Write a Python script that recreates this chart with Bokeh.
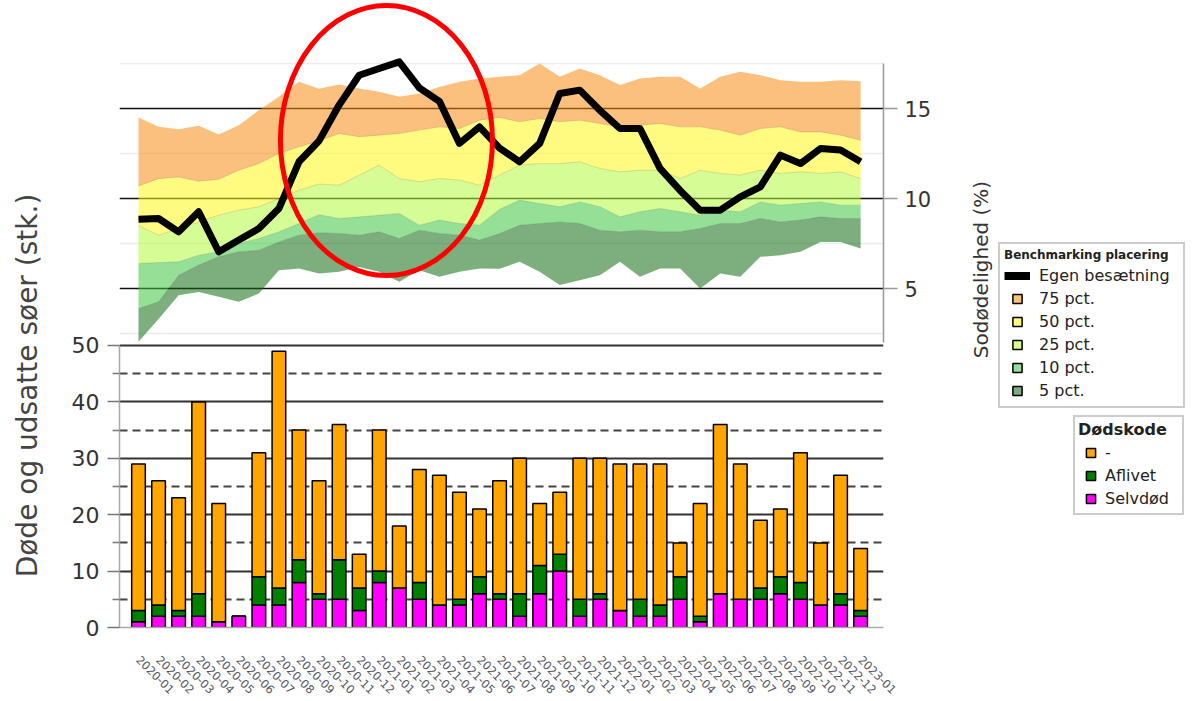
import math
from bokeh.plotting import figure
from bokeh.layouts import row
from bokeh.models import (Range1d, LinearAxis, FixedTicker, Grid, Legend, LegendItem, Label)
from bokeh.embed import file_html
from bokeh.resources import INLINE

# ---------------- data ----------------
months = ["2020-01", "2020-02", "2020-03", "2020-04", "2020-05", "2020-06", "2020-07", "2020-08",
          "2020-09", "2020-10", "2020-11", "2020-12", "2021-01", "2021-02", "2021-03", "2021-04",
          "2021-05", "2021-06", "2021-07", "2021-08", "2021-09", "2021-10", "2021-11", "2021-12",
          "2022-01", "2022-02", "2022-03", "2022-04", "2022-05", "2022-06", "2022-07", "2022-08",
          "2022-09", "2022-10", "2022-11", "2022-12", "2023-01"]

# Bars: deaths per month (stk.)
total = [29, 26, 23, 40, 22, 2, 31, 49, 35, 26, 36, 13, 35, 18, 28, 27, 24, 21, 26, 30, 22, 24, 30, 30,
         29, 29, 29, 15, 22, 36, 29, 19, 21, 31, 15, 27, 14]
selvdod = [1, 2, 2, 2, 1, 2, 4, 4, 8, 5, 5, 3, 8, 7, 5, 4, 4, 6, 5, 2, 6, 10, 2, 5,
           3, 2, 2, 5, 1, 6, 5, 5, 6, 5, 4, 4, 2]
aflivet = [2, 2, 1, 4, 0, 0, 5, 3, 4, 1, 7, 4, 2, 0, 3, 0, 1, 3, 1, 4, 5, 3, 3, 1,
           0, 3, 2, 4, 1, 0, 0, 2, 3, 3, 0, 2, 1]

# Benchmark band boundaries (Sodødelighed %)
band_lo5 = [2.04, 3.3, 4.63, 4.81, 4.54, 4.26, 4.72, 6.02, 6.11, 5.83, 5.93, 6.2, 5.93, 5.37, 6.02, 5.65,
            5.93, 6.11, 6.1, 6.48, 5.93, 5.19, 5.46, 5.74, 6.48, 5.65, 6.11, 6.11, 5.0, 5.83, 5.65, 6.76,
            6.85, 7.04, 7.59, 7.59, 7.22]
band_10 = [3.89, 4.26, 5.74, 6.3, 6.76, 7.04, 7.13, 7.59, 7.96, 8.1, 8.06, 7.96, 8.15, 7.78, 8.24, 8.06,
           7.96, 7.69, 8.05, 8.52, 8.61, 8.7, 8.61, 8.24, 8.15, 8.24, 8.15, 8.15, 8.33, 8.61, 8.61, 8.89,
           8.7, 8.8, 8.98, 8.89, 8.89]
band_25 = [6.39, 6.44, 6.48, 6.85, 7.04, 7.5, 7.78, 8.15, 8.61, 9.1, 8.89, 8.98, 9.07, 9.17, 8.52, 8.8,
           8.61, 8.52, 9.4, 9.91, 9.72, 9.54, 9.81, 9.54, 8.98, 9.26, 9.44, 9.26, 9.07, 9.35, 9.26, 9.81,
           9.63, 9.72, 9.81, 9.63, 9.63]
band_50 = [8.5, 7.96, 8.33, 8.7, 9.07, 9.35, 9.54, 10.0, 10.46, 10.8, 10.74, 11.3, 11.85, 11.11, 10.93, 11.11,
           11.02, 10.74, 11.3, 11.85, 11.94, 11.94, 12.04, 11.67, 11.48, 11.57, 11.57, 11.11, 11.57, 11.39,
           11.3, 11.57, 11.39, 11.48, 11.39, 11.48, 11.11]
band_75 = [10.7, 11.1, 11.2, 10.96, 11.07, 11.57, 11.94, 12.5, 12.87, 13.2, 13.61, 13.43, 13.52, 13.61, 13.8,
           13.98, 13.89, 14.35, 14.5, 14.26, 14.44, 14.26, 14.35, 14.17, 13.98, 14.07, 14.17, 13.98, 13.98,
           13.8, 13.52, 13.89, 13.98, 13.7, 13.7, 13.52, 13.24]
band_hi = [14.5, 13.98, 13.85, 14.04, 13.56, 14.07, 14.9, 15.65, 16.48, 16.1, 16.33, 16.11, 15.93, 15.65, 15.83,
           16.2, 16.48, 16.67, 16.76, 16.85, 17.5, 16.76, 17.22, 16.85, 16.3, 16.67, 16.76, 16.76, 16.11,
           16.76, 17.04, 16.85, 16.57, 16.48, 16.48, 16.57, 16.52]
egen = [8.85, 8.89, 8.15, 9.26, 7.04, 7.69, 8.33, 9.44, 12.04, 13.2, 15.19, 16.85, 17.22, 17.59, 16.15, 15.4,
        13.06, 13.98, 12.8, 12.04, 13.06, 15.83, 16.02, 14.9, 13.89, 13.89, 11.67, 10.45, 9.35, 9.35, 10.09,
        10.65, 12.41, 11.94, 12.78, 12.69, 12.04]

band_labels = ["5 pct.", "10 pct.", "25 pct.", "50 pct.", "75 pct."]
bar_labels = ["Selvdød", "Aflivet", "-"]

# ---------------- styles ----------------
FONT = "DejaVu Sans"
band_fill = ["#136c13", "#3cc740", "#b4f940", "#fff618", "#f98c14"]
band_alpha = 0.55
band_legend = ["#7dae7d", "#94e096", "#d6fc96", "#fffa80", "#fcc17e"]
bar_colors = ["#ff00ff", "#008000", "#ffa500"]

H = 700
BOTTOM = 73          # space under the plot frame (x labels)
FRAME_H = H - BOTTOM
LEFT_W = 60
MAIN_W = 883
RIGHT_W = 247


def blank_fig(w):
    f = figure(width=w, height=H, output_backend="svg", toolbar_location=None,
               x_range=Range1d(0, w), y_range=Range1d(FRAME_H, 0),
               x_axis_location=None, y_axis_location=None,
               min_border=0, min_border_left=0, min_border_right=0,
               min_border_top=0, min_border_bottom=BOTTOM)
    f.xgrid.visible = False
    f.ygrid.visible = False
    f.outline_line_color = None
    f.background_fill_color = "white"
    f.border_fill_color = "white"
    return f


x = list(range(len(months)))
rest = [t - s - a for t, s, a in zip(total, selvdod, aflivet)]

p = figure(width=MAIN_W, height=H, output_backend="svg", toolbar_location=None,
           x_range=Range1d(-0.947, 37.14), y_range=Range1d(0, 111.17),
           x_axis_location=None, y_axis_location=None,
           min_border_left=59, min_border_right=60, min_border_top=0, min_border_bottom=BOTTOM)
p.extra_y_ranges = {"top": Range1d(-13.833, 21.0)}
p.outline_line_color = None
p.xgrid.visible = False
p.ygrid.visible = False
p.background_fill_color = "white"
p.border_fill_color = "white"

# ---- grids ----
p.add_layout(Grid(dimension=1, ticker=FixedTicker(ticks=[10, 20, 30, 40, 50]),
                  grid_line_color="#333333", grid_line_width=2))
p.add_layout(Grid(dimension=1, ticker=FixedTicker(ticks=[5, 15, 25, 35, 45]),
                  grid_line_color="#444444", grid_line_width=2, grid_line_dash="8 5"))
p.add_layout(Grid(dimension=1, y_range_name="top", ticker=FixedTicker(ticks=[2.5, 7.5, 12.5, 17.5]),
                  grid_line_color="#ececec", grid_line_width=1.5))
p.add_layout(Grid(dimension=1, y_range_name="top", ticker=FixedTicker(ticks=[5, 10, 15]),
                  grid_line_color="#111111", grid_line_width=1.5))

# ---- axes ----
xax = LinearAxis(ticker=FixedTicker(ticks=x),
                 major_label_overrides={i: m for i, m in enumerate(months)},
                 major_label_orientation=-math.pi / 4,
                 major_label_text_font=FONT, major_label_text_font_size="11.5px",
                 major_label_text_color="#555566", major_label_standoff=24,
                 axis_line_color="#aaaaaa", axis_line_width=1.5,
                 major_tick_line_color=None, minor_tick_line_color=None)
p.add_layout(xax, "below")

yax = LinearAxis(ticker=FixedTicker(ticks=[0, 10, 20, 30, 40, 50], minor_ticks=[5, 15, 25, 35, 45]),
                 bounds=(0, 50), axis_line_color="#aaaaaa", axis_line_width=1.5,
                 major_tick_out=12, major_tick_in=0, minor_tick_out=7, minor_tick_in=0,
                 major_tick_line_color="#777777", minor_tick_line_color="#777777",
                 major_tick_line_width=1.5, minor_tick_line_width=1.5,
                 major_label_text_font=FONT, major_label_text_font_size="22px",
                 major_label_text_color="#333333", major_label_standoff=8)
p.add_layout(yax, "left")

rax = LinearAxis(y_range_name="top", ticker=FixedTicker(ticks=[5, 10, 15]),
                 bounds=(2.0, 17.5), axis_line_color="#999999", axis_line_width=1.5,
                 major_tick_out=14, major_tick_in=0, major_tick_line_color="#999999",
                 major_tick_line_width=1.5, minor_tick_line_color=None,
                 major_label_text_font=FONT, major_label_text_font_size="21px",
                 major_label_text_color="#333333", major_label_standoff=7)
p.add_layout(rax, "right")

# ---- benchmark bands ----
bounds_list = [band_lo5, band_10, band_25, band_50, band_75, band_hi]
for k in range(5):
    p.varea(x=x, y1=bounds_list[k], y2=bounds_list[k + 1], fill_color=band_fill[k],
            fill_alpha=band_alpha, y_range_name="top")
for k in range(1, 5):
    p.line(x=x, y=bounds_list[k], line_color="#000000", line_alpha=0.12, line_width=1,
           y_range_name="top")

p.line(x=x, y=egen, line_color="black", line_width=7, line_join="round", y_range_name="top")

# ---- bars ----
p.vbar_stack(["selv", "afl", "rest"], x="x", width=0.68,
             source=dict(x=x, selv=selvdod, afl=aflivet, rest=rest),
             fill_color=bar_colors, line_color="black", line_width=1.5)

# ---- highlight ellipse ----
ell_x, ell_y, ell_w, ell_h = 12.36, 13.22, 10.57, 15.0
p.ellipse(x=[ell_x], y=[ell_y], width=ell_w, height=ell_h, fill_color=None,
          line_color="#ff0000", line_width=5, y_range_name="top")

# ---- left title panel ----
lf = blank_fig(LEFT_W)
lf.add_layout(Label(x=27, y=385, text="Døde og udsatte søer (stk.)", angle=math.pi / 2,
                    text_align="center", text_baseline="middle", text_font=FONT,
                    text_font_size="28px", text_color="#444444"))

# ---- right panel: axis title + legends ----
rf = blank_fig(RIGHT_W)
rf.add_layout(Label(x=37, y=269, text="Sodødelighed (%)", angle=math.pi / 2,
                    text_align="center", text_baseline="middle", text_font=FONT,
                    text_font_size="20px", text_color="#333333"))

OFF = [-1000]  # legend-only renderers sit outside the visible area
egen_leg = rf.line(x=OFF, y=OFF, line_color="black", line_width=8)
dummy = []
for k in range(5):
    dummy.append(rf.scatter(x=OFF, y=OFF, marker="square", size=11, fill_color=band_legend[k],
                            line_color="black", line_width=1.5))
items1 = [LegendItem(label="Egen besætning", renderers=[egen_leg])]
for k in [4, 3, 2, 1, 0]:
    items1.append(LegendItem(label=band_labels[k], renderers=[dummy[k]]))
leg1 = Legend(items=items1, location=(55, FRAME_H - 408), title="Benchmarking placering",
              title_text_font=FONT, title_text_font_style="bold", title_text_font_size="12px",
              title_text_color="#222222", title_standoff=2,
              label_text_font=FONT, label_text_font_size="16px", label_text_color="#222222",
              glyph_width=26, glyph_height=23, label_height=18, label_width=140, spacing=0,
              padding=4, margin=0, label_standoff=9,
              border_line_color="#999999", border_line_width=2,
              background_fill_color="white", background_fill_alpha=1)
rf.add_layout(leg1)

dummy2 = []
for k in range(3):
    dummy2.append(rf.scatter(x=OFF, y=OFF, marker="square", size=12, fill_color=bar_colors[k],
                             line_color="black", line_width=1.5))
items2 = [LegendItem(label=bar_labels[k], renderers=[dummy2[k]]) for k in [2, 1, 0]]
leg2 = Legend(items=items2, location=(130, FRAME_H - 515), title="Dødskode",
              title_text_font=FONT, title_text_font_style="bold", title_text_font_size="16px",
              title_text_color="#222222", title_standoff=2,
              label_text_font=FONT, label_text_font_size="16px", label_text_color="#222222",
              glyph_width=25, glyph_height=23, label_height=18, label_width=74, spacing=0,
              padding=3, margin=0, label_standoff=2,
              border_line_color="#999999", border_line_width=2,
              background_fill_color="white", background_fill_alpha=1)
rf.add_layout(leg2)

layout = row(lf, p, rf, spacing=0)
open("out.html", "w").write(file_html(layout, INLINE))
